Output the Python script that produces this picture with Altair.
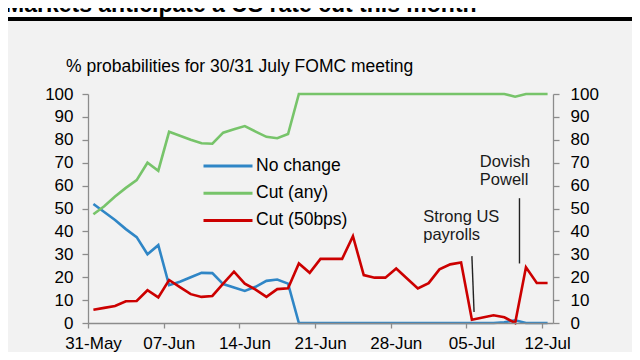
import altair as alt
import pandas as pd

FONT = "Liberation Sans"

# ---- data ----
start_day = "2019-05-31 12:00"
n_days = 43
no_change = [52, 48.5, 45, 41, 37.5, 30, 34, 16.5, 18, 20, 21.9, 21.8, 17, 15.5, 14,
             15.8, 18.4, 19, 17.2, 0, 0, 0, 0, 0, 0, 0, 0, 0, 0, 0,
             0, 0, 0, 0, 0, 0, 0, 0, 0.3, 1.2, 0, 0, 0]
cut_any = [47.5, 51, 55.2, 59, 62.4, 70, 66.5, 83.5, 81.8, 80, 78.5, 78.3, 83.1, 84.6, 86,
           83.6, 81.3, 80.7, 82.5, 100, 100, 100, 100, 100, 100, 100, 100, 100, 100, 100,
           100, 100, 100, 100, 100, 100, 100, 100, 100, 98.8, 100, 100, 100]
cut_50 = [5.8, 6.6, 7.4, 9.5, 9.6, 14.3, 11.2, 18.8, 15.7, 12.6, 11.4, 11.8, 17.2, 22.4, 17.2,
          14.6, 11.4, 14.8, 15.2, 26, 21.9, 28, 28, 28, 37.9, 20.9, 19.8, 19.8, 23.8, 19.4,
          15.1, 17.4, 23.4, 25.6, 26.4, 1.4, 2.4, 3.4, 2.5, 0, 24.3, 17.5, 17.5]
series_names = ["No change", "Cut (any)", "Cut (50bps)"]
series_colors = ["#2f86c6", "#77c46a", "#cc0000"]

tick_dates = [(2019, 5, 31), (2019, 6, 7), (2019, 6, 14), (2019, 6, 21),
              (2019, 6, 28), (2019, 7, 5), (2019, 7, 12)]
y_ticks = [0, 10, 20, 30, 40, 50, 60, 70, 80, 90, 100]

title_text = "Markets anticipate a US rate cut this month"
subtitle_text = "% probabilities for 30/31 July FOMC meeting"

# annotations (anchor points in data space)
ann_lines = [
    {"x": "2019-07-05T12:00:00", "x2": "2019-07-05T16:48:00", "y": 29.2, "y2": 4.8},
    {"x": "2019-07-09T21:36:00", "x2": "2019-07-09T21:36:00", "y": 54.5, "y2": 26.0},
]
ann_texts = [
    {"x": "2019-07-01T00:00:00", "y": 44.2, "text": "Strong US\npayrolls"},
    {"x": "2019-07-06T05:30:00", "y": 68.0, "text": "Dovish\nPowell"},
]

# ---- build table ----
dates = pd.date_range(start_day, periods=n_days, freq="D")
rows = []
for name, vals in zip(series_names, [no_change, cut_any, cut_50]):
    for d, v in zip(dates, vals):
        rows.append({"date": d, "value": v, "series": name})
df = pd.DataFrame(rows)

W, H = 465, 229
x_scale = alt.Scale(domain=[alt.DateTime(year=2019, month=5, date=31),
                            alt.DateTime(year=2019, month=7, date=13)])
y_scale = alt.Scale(domain=[0, 100])

x_axis = alt.Axis(values=[alt.DateTime(year=a, month=b, date=c) for a, b, c in tick_dates],
                  format="%d-%b", title=None, tickSize=5, labelPadding=7,
                  labelOffset=5, labelFontSize=17, labelOverlap=False, labelFlush=False,
                  zindex=1)

bg = alt.Chart(alt.Data(values=[{}])).mark_rect(color="#f2f2f2").encode(
    x=alt.value(-83), x2=alt.value(545), y=alt.value(-73), y2=alt.value(280))
rule_top = alt.Chart(alt.Data(values=[{}])).mark_rect(color="#000000").encode(
    x=alt.value(-83), x2=alt.value(545), y=alt.value(-77), y2=alt.value(-73))
title = alt.Chart(alt.Data(values=[{}])).mark_text(
    text=title_text, font=FONT, fontSize=23, fontWeight="bold", align="left",
    baseline="alphabetic", color="#000000").encode(x=alt.value(-83), y=alt.value(-82))
subtitle = alt.Chart(alt.Data(values=[{}])).mark_text(
    text=subtitle_text, font=FONT, fontSize=17.5, align="left",
    baseline="alphabetic", color="#000000").encode(x=alt.value(-22), y=alt.value(-22))

lines = alt.Chart(df).mark_line(strokeWidth=2.6).encode(
    x=alt.X("date:T", scale=x_scale, axis=x_axis),
    y=alt.Y("value:Q", scale=y_scale,
            axis=alt.Axis(values=y_ticks, title=None, tickSize=6, labelPadding=9,
                          orient="left", zindex=1)),
    color=alt.Color("series:N", sort=series_names,
                    scale=alt.Scale(domain=series_names, range=series_colors),
                    legend=alt.Legend(title=None, orient="none", legendX=126, legendY=58,
                                      symbolType="M-2,0H2", symbolSize=600.25,
                                      symbolStrokeWidth=3, labelFontSize=17.5,
                                      labelFont=FONT, labelOffset=14, rowPadding=4.2,
                                      zindex=1)),
    detail="series:N",
)

ann_rule = alt.Chart(pd.DataFrame(ann_lines)).mark_rule(color="#222222", strokeWidth=1.4).encode(
    x=alt.X("x:T", scale=x_scale, axis=x_axis),
    x2="x2:T",
    y=alt.Y("y:Q", scale=y_scale,
            axis=alt.Axis(values=y_ticks, title=None, tickSize=6, labelPadding=11,
                          orient="right", zindex=1)),
    y2="y2:Q",
)

ann_text = alt.Chart(pd.DataFrame(ann_texts)).mark_text(
    font=FONT, fontSize=16.5, align="left", baseline="alphabetic", lineBreak="\n",
    lineHeight=18, color="#1a1a1a").encode(
    x=alt.X("x:T", scale=x_scale, axis=x_axis),
    y=alt.Y("y:Q", scale=y_scale, axis=None),
    text="text:N")

chart = alt.layer(bg, rule_top, title, subtitle, lines, ann_rule, ann_text).resolve_axis(
    y="independent"
).properties(
    width=W, height=H,
    autosize=alt.AutoSizeParams(type="none"),
    padding={"left": 80, "top": 86, "right": 79, "bottom": 29},
).configure(background="white").configure_view(strokeWidth=0).configure_axis(
    domainColor="#8c8c8c", tickColor="#8c8c8c", labelColor="#000000",
    labelFont=FONT, labelFontSize=17, grid=False, domainWidth=1.3, tickWidth=1.3
)

chart.save("out.html", embed_options={"renderer": "svg", "actions": False})
